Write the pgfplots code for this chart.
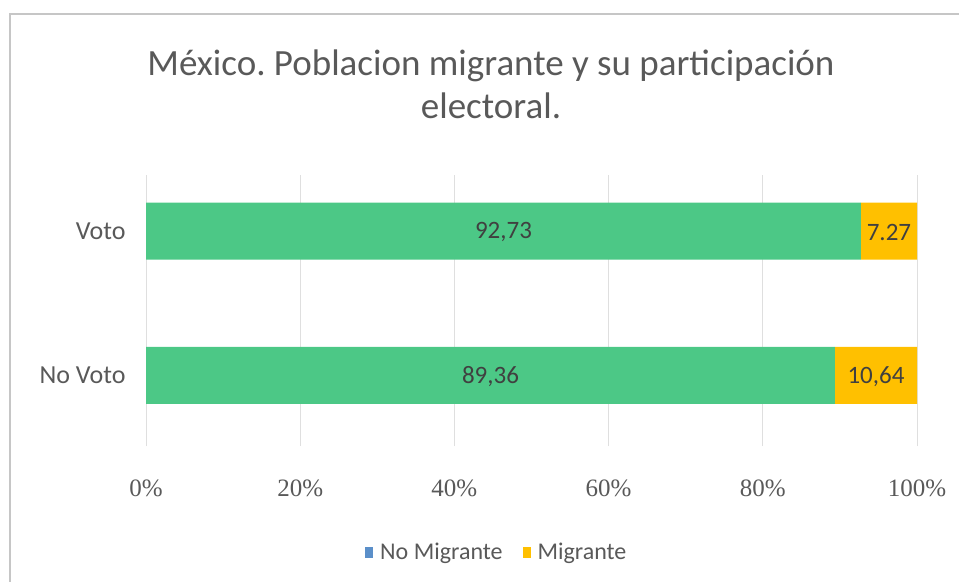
\documentclass[border=0pt]{standalone}
\usepackage{fontspec}
\setmainfont{Carlito}
\newfontfamily\tickfont{Liberation Serif}
\usepackage{pgfplots}
\pgfplotsset{compat=1.18}
\frenchspacing

\definecolor{nomig}{HTML}{4CC886}
\definecolor{mig}{HTML}{FFC000}
\definecolor{legblue}{HTML}{5B8FC9}
\definecolor{txtgray}{HTML}{595959}

\begin{document}
\begin{tikzpicture}
% page frame, 1px = 1bp
\path[use as bounding box] (0,0) rectangle (959bp,582bp);
\draw[gray!45, line width=1.2bp] (10bp,0) -- (10bp,568bp) -- (959bp,568bp);

\node[text=txtgray, font=\fontsize{37bp}{43bp}\selectfont, align=center]
  at (491bp,498bp) {México. Poblacion migrante y su participación\\electoral.};

\begin{axis}[
    at={(146bp,136bp)}, anchor=south west,
    scale only axis,
    width=771bp, height=271bp,
    xbar stacked,
    bar width=57bp,
    xmin=0, xmax=100,
    ymin=-0.49, ymax=1.39,
    ytick={0,1},
    yticklabels={No Voto, Voto},
    xtick={0,20,...,100},
    xticklabels={0\%,20\%,40\%,60\%,80\%,100\%},
    xmajorgrids,
    grid style={gray!25, line width=0.8bp},
    axis line style={draw=none},
    major tick length=0pt,
    tick label style={text=txtgray},
    xticklabel style={font=\tickfont\fontsize{25bp}{27bp}\selectfont, yshift=-30bp},
    yticklabel style={font=\fontsize{26bp}{28bp}\selectfont, xshift=-17bp},
    /pgf/number format/assume math mode=true,
    point meta=explicit symbolic,
    nodes near coords,
    every node near coord/.append style={
        anchor=center, yshift=-1bp,
        font=\fontsize{25bp}{27bp}\selectfont,
        text=black!75},
    legend style={
        at={(0.455,-0.39)}, anchor=center,
        draw=none, fill=none,
        legend columns=2,
        font=\fontsize{24bp}{26bp}\selectfont,
        text=txtgray,
        /tikz/every even column/.append style={column sep=18bp}},
    legend cell align=left,
]
\addplot[fill=nomig, draw=none,
    legend image code/.code={\fill[legblue] (0bp,-6bp) rectangle (8bp,5bp);\path (13bp,0);}]
    coordinates {(89.36,0) [89,36] (92.73,1) [92,73]};
\addplot[fill=mig, draw=none,
    legend image code/.code={\fill[mig] (0bp,-6bp) rectangle (8bp,5bp);\path (13bp,0);}]
    coordinates {(10.64,0) [10,64] (7.27,1) [7.27]};
\legend{No Migrante, Migrante}
\end{axis}
\end{tikzpicture}
\end{document}
